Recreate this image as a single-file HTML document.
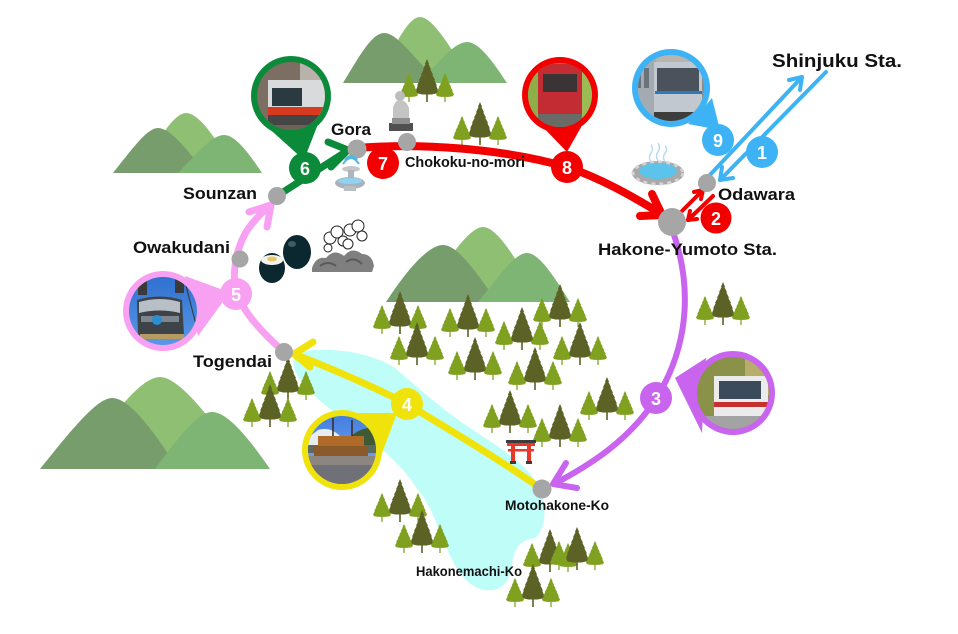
<!DOCTYPE html>
<html><head><meta charset="utf-8"><style>
html,body{margin:0;padding:0;background:#fff;}
svg{display:block;}
text{font-family:"Liberation Sans","Noto Sans CJK JP",sans-serif;font-weight:bold;}
</style></head><body>
<svg width="958" height="634" viewBox="0 0 958 634" xmlns="http://www.w3.org/2000/svg">
<defs>
<symbol id="tree" viewBox="0 0 20 40" preserveAspectRatio="none">
<path d="M10 0 L11.8 4.5 L11.3 4.8 L13.5 9.5 L12.9 9.8 L15.2 14.5 L14.6 14.8 L17 19.5 L16.4 19.8 L18.6 24.5 L18 24.8 L20 30 L18.5 32 L14 33 L10.7 33 L10.7 40 L9.3 40 L9.3 33 L6 33 L1.5 32 L0 30 L2 24.8 L1.4 24.5 L3.6 19.8 L3 19.5 L5.4 14.8 L4.8 14.5 L7.1 9.8 L6.5 9.5 L8.7 4.8 L8.2 4.5 Z"/>
</symbol>
<g id="cl">
<use href="#tree" x="-11.5" y="-43" width="23" height="43" fill="#5c6226"/>
<use href="#tree" x="-27" y="-29" width="18" height="29" fill="#7fa11f"/>
<use href="#tree" x="9" y="-29" width="18" height="29" fill="#7fa11f"/>
</g>
<clipPath id="c9"><circle cx="671" cy="88" r="33"/></clipPath>
<clipPath id="c8"><circle cx="560" cy="95" r="32"/></clipPath>
<clipPath id="c6"><circle cx="291" cy="96" r="34"/></clipPath>
<clipPath id="c5"><circle cx="163" cy="311" r="34"/></clipPath>
<clipPath id="c4"><circle cx="342" cy="450" r="34"/></clipPath>
<clipPath id="c3"><circle cx="733" cy="393" r="36"/></clipPath>
<linearGradient id="sky5" x1="0" y1="0" x2="0" y2="1"><stop offset="0" stop-color="#2f6fd0"/><stop offset="1" stop-color="#5b9be6"/></linearGradient>
<linearGradient id="sky4" x1="0" y1="0" x2="0" y2="1"><stop offset="0" stop-color="#3f7be0"/><stop offset="1" stop-color="#8ab4ee"/></linearGradient>
</defs>

<!-- Lake -->
<path d="M297,352 C 330,346 370,352 395,368 C 415,385 440,408 470,428 C 500,448 530,465 540,490 C 548,510 545,530 535,538 C 520,540 514,548 512,565 C 510,585 498,592 485,590 C 470,588 460,575 452,560 C 440,535 432,505 418,490 C 405,470 390,455 370,440 C 345,420 315,400 300,380 C 292,368 292,358 297,352 Z" fill="#bffdf9"/>

<!-- Mountains top center -->
<path d="M375,83 C 395,45 408,17 420,17 C 432,17 450,45 472,83 Z" fill="#8fbf72"/>
<path d="M343,83 C 360,55 372,33 384,33 C 398,33 415,60 440,83 Z" fill="#789d6d"/>
<path d="M420,83 C 440,60 455,42 467,42 C 480,42 495,65 507,83 Z" fill="#7fb574"/>
<!-- Mountains top left -->
<path d="M140,173 C 160,135 175,113 186,113 C 198,113 215,135 235,173 Z" fill="#8fbf72"/>
<path d="M113,173 C 135,145 148,128 158,128 C 170,128 188,150 205,173 Z" fill="#789d6d"/>
<path d="M178,173 C 200,150 213,135 224,135 C 236,135 250,155 262,173 Z" fill="#7fb574"/>
<!-- Mountains bottom left -->
<path d="M75,469 C 115,410 142,377 160,377 C 178,377 210,415 245,469 Z" fill="#8fbf72"/>
<path d="M40,469 C 75,425 98,398 112,398 C 128,398 150,425 178,469 Z" fill="#789d6d"/>
<path d="M155,469 C 180,435 198,412 212,412 C 228,412 250,440 270,469 Z" fill="#7fb574"/>
<!-- Mountains center -->
<path d="M420,302 C 450,255 470,227 483,227 C 496,227 515,255 540,302 Z" fill="#8fbf72"/>
<path d="M386,302 C 410,265 430,245 443,245 C 457,245 475,270 497,302 Z" fill="#789d6d"/>
<path d="M478,302 C 500,275 515,253 527,253 C 540,253 556,280 570,302 Z" fill="#7fb574"/>

<!-- Trees -->
<use href="#cl" x="427" y="102"/>
<use href="#cl" x="480" y="145"/>
<use href="#cl" x="400" y="334"/>
<use href="#cl" x="468" y="337"/>
<use href="#cl" x="560" y="327"/>
<use href="#cl" x="522" y="350"/>
<use href="#cl" x="417" y="365"/>
<use href="#cl" x="580" y="365"/>
<use href="#cl" x="475" y="380"/>
<use href="#cl" x="535" y="390"/>
<use href="#cl" x="607" y="420"/>
<use href="#cl" x="510" y="433"/>
<use href="#cl" x="560" y="447"/>
<use href="#cl" x="723" y="325"/>
<use href="#cl" x="288" y="400"/>
<use href="#cl" x="270" y="427"/>
<use href="#cl" x="400" y="522"/>
<use href="#cl" x="422" y="553"/>
<use href="#cl" x="550" y="572"/>
<use href="#cl" x="577" y="570"/>
<use href="#cl" x="533" y="607"/>

<!-- Blue lines -->
<g stroke="#3db3f5" stroke-width="4" stroke-linecap="round" stroke-linejoin="round" fill="none">
<line x1="708" y1="177" x2="802" y2="77"/>
<polyline points="789,80 802,77 800,90"/>
<line x1="826" y1="72" x2="720" y2="180"/>
<polyline points="733,178 720,180 722,167"/>
</g>
<!-- Red short arrows -->
<g stroke="#f20000" stroke-width="4" stroke-linecap="round" stroke-linejoin="round" fill="none">
<line x1="682" y1="211" x2="703" y2="190"/>
<polyline points="694,192 703,190 701,199"/>
<line x1="713" y1="196" x2="688" y2="220"/>
<polyline points="697,219 688,220 690,211"/>
</g>
<!-- Red main -->
<g stroke="#f20000" stroke-width="8" stroke-linecap="round" stroke-linejoin="round" fill="none">
<path d="M357,148 C 420,143 500,148 567,167 C 600,178 630,195 660,213"/>
<polyline points="652,194 662,215 640,216"/>
</g>
<!-- Green -->
<g stroke="#0b8a3a" stroke-width="7" stroke-linecap="round" stroke-linejoin="round" fill="none">
<line x1="277" y1="196" x2="347" y2="151"/>
<polyline points="328,142 348,150 331,167"/>
</g>
<!-- Pink -->
<g stroke="#f8a0f2" stroke-width="7" stroke-linecap="round" stroke-linejoin="round" fill="none">
<path d="M284,352 C 265,335 245,315 237,294 C 231,275 236,250 246,232 C 254,220 262,212 271,205"/>
<polyline points="249,212 271,205 267,227"/>
</g>
<!-- Yellow -->
<g stroke="#f0e30c" stroke-width="7" stroke-linecap="round" stroke-linejoin="round" fill="none">
<path d="M540,488 C 500,460 450,430 407,404 C 370,385 330,368 294,354"/>
<polyline points="313,342 294,354 310,367"/>
</g>
<!-- Purple -->
<g stroke="#c964ef" stroke-width="6" stroke-linecap="round" stroke-linejoin="round" fill="none">
<path d="M673,232 C 690,280 692,340 657,397 C 630,440 590,465 554,484"/>
<polyline points="566,463 553,484 577,488"/>
</g>

<!-- Station dots -->
<g fill="#a6a6a6">
<circle cx="707" cy="183" r="9"/>
<circle cx="672" cy="222" r="14"/>
<circle cx="357" cy="149" r="9.5"/>
<circle cx="407" cy="142" r="9"/>
<circle cx="277" cy="196" r="9"/>
<circle cx="240" cy="259" r="8.5"/>
<circle cx="284" cy="352" r="9"/>
<circle cx="542" cy="489" r="9.5"/>
</g>

<!-- Pins -->
<!-- Blue 9 -->
<polygon points="700,112 712,98 720,130 688,124" fill="#3db3f5"/>
<circle cx="671" cy="88" r="39" fill="#3db3f5"/>
<g clip-path="url(#c9)">
<rect x="630" y="50" width="85" height="80" fill="#b9b4ae"/>
<rect x="632" y="58" width="24" height="66" fill="#a4aab2"/>
<rect x="636" y="68" width="5" height="20" fill="#6a727c"/>
<rect x="644" y="68" width="5" height="20" fill="#6a727c"/>
<rect x="654" y="62" width="48" height="60" fill="#c2c8cf"/>
<rect x="657" y="68" width="42" height="23" fill="#4a535c"/>
<rect x="655" y="91" width="47" height="3" fill="#2a7ac0"/>
<rect x="654" y="112" width="48" height="12" fill="#3d3d3d"/>
<rect x="702" y="55" width="15" height="70" fill="#8f8a86"/>
</g>
<!-- Red 8 -->
<polygon points="540,124 584,122 567,152" fill="#f20000"/>
<circle cx="560" cy="95" r="38" fill="#f20000"/>
<g clip-path="url(#c8)">
<rect x="525" y="60" width="72" height="72" fill="#6f9a3a"/>
<rect x="525" y="60" width="20" height="72" fill="#8fae4a"/>
<rect x="580" y="60" width="20" height="72" fill="#9dbb55"/>
<rect x="538" y="64" width="44" height="56" fill="#c42c34"/>
<rect x="543" y="74" width="34" height="18" fill="#3a3434"/>
<rect x="538" y="114" width="44" height="18" fill="#6a6a66"/>
</g>
<!-- Green 6 -->
<polygon points="264,124 318,124 304,160" fill="#0b8a3a"/>
<circle cx="291" cy="96" r="40" fill="#0b8a3a"/>
<g clip-path="url(#c6)">
<rect x="255" y="60" width="75" height="75" fill="#7c6e62"/>
<rect x="300" y="60" width="30" height="25" fill="#b9b2aa"/>
<rect x="268" y="80" width="62" height="45" fill="#d8dadc"/>
<rect x="272" y="88" width="30" height="18" fill="#2b3a40"/>
<rect x="268" y="107" width="62" height="8" fill="#d83a20"/>
<rect x="268" y="115" width="62" height="10" fill="#454545"/>
<rect x="255" y="125" width="75" height="10" fill="#6c6258"/>
</g>
<!-- Pink 5 -->
<polygon points="185,276 226,291 222,303 198,336" fill="#f8a0f2"/>
<circle cx="163" cy="311" r="40" fill="#f8a0f2"/>
<g clip-path="url(#c5)">
<rect x="125" y="275" width="78" height="75" fill="url(#sky5)"/>
<line x1="185" y1="282" x2="200" y2="340" stroke="#333" stroke-width="1"/>
<rect x="138" y="281" width="9" height="14" fill="#3a3a3a"/>
<rect x="175" y="279" width="9" height="14" fill="#3a3a3a"/>
<path d="M137,300 Q160,293 182,300 L184,335 Q160,343 138,335 Z" fill="#3e434a"/>
<path d="M139,302 Q160,296 180,302 L180,313 Q160,308 139,313 Z" fill="#b8bfc7"/>
<rect x="141" y="316" width="38" height="6" fill="#7d858f"/>
<circle cx="157" cy="320" r="5" fill="#2a8fd0"/>
<rect x="140" y="334" width="44" height="5" fill="#b59a62"/>
</g>
<!-- Yellow 4 -->
<polygon points="355,413 397,413 381,456" fill="#f0e30c"/>
<circle cx="342" cy="450" r="40" fill="#f0e30c"/>
<g clip-path="url(#c4)">
<rect x="305" y="412" width="75" height="75" fill="url(#sky4)"/>
<path d="M305,440 L318,430 Q330,426 340,436 L350,445 L305,445 Z" fill="#e6ecf2"/>
<path d="M345,445 Q355,425 380,428 L380,450 L345,450 Z" fill="#3e5a34"/>
<rect x="305" y="445" width="75" height="8" fill="#5a6a60"/>
<line x1="333" y1="418" x2="333" y2="440" stroke="#3a2a1a" stroke-width="1.5"/>
<line x1="352" y1="420" x2="352" y2="440" stroke="#3a2a1a" stroke-width="1.5"/>
<rect x="318" y="436" width="46" height="10" fill="#b06a28"/>
<rect x="314" y="446" width="54" height="10" fill="#8a5a2a"/>
<rect x="305" y="456" width="75" height="31" fill="#8d8680"/>
<rect x="305" y="465" width="75" height="22" fill="#6f7078"/>
</g>
<!-- Purple 3 -->
<polygon points="706,358 675,378 702,433" fill="#c964ef"/>
<circle cx="733" cy="393" r="42" fill="#c964ef"/>
<g clip-path="url(#c3)">
<rect x="695" y="355" width="78" height="78" fill="#8a9148"/>
<rect x="745" y="355" width="30" height="40" fill="#b8ad6a"/>
<rect x="714" y="376" width="54" height="40" fill="#ebebeb"/>
<rect x="719" y="381" width="42" height="18" fill="#3b4b5b"/>
<rect x="714" y="402" width="54" height="5" fill="#c83030"/>
<rect x="695" y="416" width="78" height="20" fill="#a3a3a3"/>
</g>

<!-- Badges -->
<g font-size="18" fill="#fff" text-anchor="middle">
<circle cx="762" cy="152" r="16" fill="#3db3f5"/><text x="762" y="159" fill="#fff">1</text>
<circle cx="718" cy="140" r="16" fill="#3db3f5"/><text x="718" y="147" fill="#fff">9</text>
<circle cx="716" cy="218" r="15.5" fill="#f20000"/><text x="716" y="225" fill="#fff">2</text>
<circle cx="656" cy="398" r="16" fill="#c964ef"/><text x="656" y="405" fill="#fff">3</text>
<circle cx="407" cy="404" r="16" fill="#f0e30c"/><text x="407" y="411" fill="#fff">4</text>
<circle cx="236" cy="294" r="16" fill="#f8a0f2"/><text x="236" y="301" fill="#fff">5</text>
<circle cx="305" cy="168" r="16" fill="#0b8a3a"/><text x="305" y="175" fill="#fff">6</text>
<circle cx="383" cy="163" r="16" fill="#f20000"/><text x="383" y="170" fill="#fff">7</text>
<circle cx="567" cy="167" r="16" fill="#f20000"/><text x="567" y="174" fill="#fff">8</text>
</g>

<!-- Icons -->
<!-- Onsen -->
<ellipse cx="658" cy="173" rx="26" ry="12" fill="#a9a9a9"/>
<ellipse cx="658" cy="173" rx="25" ry="11" fill="none" stroke="#d4d4d4" stroke-width="3" stroke-dasharray="4 4"/>
<ellipse cx="658" cy="171" rx="19" ry="8" fill="#5cc3ea"/>
<g stroke="#b8dcee" stroke-width="1.5" fill="none">
<path d="M651,162 q-3,-5 0,-9 q3,-4 0,-8"/>
<path d="M658,161 q-3,-5 0,-9 q3,-4 0,-9"/>
<path d="M665,162 q-3,-5 0,-9 q3,-4 0,-7"/>
</g>
<!-- Fountain -->
<path d="M345,160 q6,-8 12,0 M343,164 q8,-12 16,0" stroke="#4fb6e6" stroke-width="2" fill="none"/>
<ellipse cx="351" cy="169" rx="9" ry="3" fill="#c3c7cc"/>
<rect x="348" y="170" width="6" height="10" fill="#b0b5bb"/>
<ellipse cx="350" cy="183" rx="15" ry="6" fill="#a9b1b9"/>
<ellipse cx="350" cy="181" rx="12" ry="3" fill="#8fd2f2"/>
<rect x="344" y="186" width="12" height="5" fill="#b8bec4"/>
<!-- Statue -->
<rect x="389" y="123" width="24" height="8" fill="#505050"/>
<rect x="392" y="118" width="18" height="6" fill="#8e8e8e"/>
<path d="M393,118 L393,108 Q395,100 400,100 Q406,100 409,108 L409,118 Z" fill="#c4c4c4"/>
<circle cx="400" cy="96" r="5" fill="#bdbdbd"/>
<!-- Eggs -->
<ellipse cx="297" cy="252" rx="14" ry="17" fill="#0b2830"/>
<ellipse cx="292" cy="244" rx="4" ry="3" fill="#3d5c66"/>
<ellipse cx="272" cy="268" rx="13" ry="15" fill="#0b2830"/>
<ellipse cx="272" cy="260" rx="11" ry="5" fill="#f4f4f0"/>
<ellipse cx="272" cy="259" rx="5" ry="2.5" fill="#e8c86a"/>
<!-- Volcanic rocks & steam -->
<g fill="#fff" stroke="#222" stroke-width="1">
<circle cx="330" cy="238" r="6"/><circle cx="337" cy="232" r="6"/><circle cx="343" cy="241" r="5"/>
<circle cx="350" cy="230" r="6"/><circle cx="358" cy="226" r="6"/><circle cx="362" cy="236" r="5"/>
<circle cx="328" cy="248" r="4"/><circle cx="348" cy="244" r="5"/>
</g>
<path d="M312,268 Q316,256 326,258 Q334,248 344,256 Q352,246 362,254 Q372,254 374,266 L372,272 L312,272 Z" fill="#7f7f7f"/>
<path d="M320,266 Q328,260 336,266 M346,262 Q354,256 362,264" stroke="#5a5a5a" stroke-width="2" fill="none"/>
<!-- Torii -->
<rect x="506" y="440" width="30" height="3" fill="#3c3c3c"/>
<rect x="507" y="443" width="28" height="3" fill="#e8382a"/>
<rect x="508" y="449" width="26" height="2.5" fill="#e8382a"/>
<rect x="511" y="443" width="4" height="20" fill="#e8382a"/>
<rect x="527" y="443" width="4" height="20" fill="#e8382a"/>
<rect x="510" y="461" width="6" height="3" fill="#3c3c3c"/>
<rect x="526" y="461" width="6" height="3" fill="#3c3c3c"/>

<!-- Labels -->
<g fill="#111">
<text x="772" y="67" font-size="18" textLength="130" lengthAdjust="spacingAndGlyphs">Shinjuku Sta.</text>
<text x="718" y="200" font-size="17" textLength="77" lengthAdjust="spacingAndGlyphs">Odawara</text>
<text x="598" y="255" font-size="17" textLength="179" lengthAdjust="spacingAndGlyphs">Hakone-Yumoto Sta.</text>
<text x="331" y="135" font-size="16.5" textLength="40" lengthAdjust="spacingAndGlyphs">Gora</text>
<text x="405" y="167" font-size="14.5" textLength="120" lengthAdjust="spacingAndGlyphs">Chokoku-no-mori</text>
<text x="183" y="199" font-size="17" textLength="74" lengthAdjust="spacingAndGlyphs">Sounzan</text>
<text x="133" y="253" font-size="17" textLength="97" lengthAdjust="spacingAndGlyphs">Owakudani</text>
<text x="193" y="367" font-size="17" textLength="79" lengthAdjust="spacingAndGlyphs">Togendai</text>
<text x="505" y="510" font-size="14" textLength="104" lengthAdjust="spacingAndGlyphs">Motohakone-Ko</text>
<text x="416" y="576" font-size="14" textLength="106" lengthAdjust="spacingAndGlyphs">Hakonemachi-Ko</text>
</g>
</svg>
</body></html>
